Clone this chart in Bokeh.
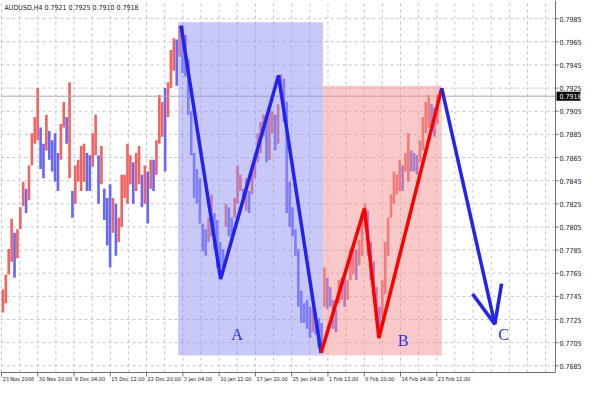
import numpy as np
from bokeh.plotting import figure
from bokeh.models import Range1d, ColumnDataSource
from bokeh.embed import file_html
from bokeh.resources import INLINE
from bokeh.core.properties import value

# ---------------- data ----------------
chart_title = "AUDUSD,H4  0.7921 0.7925 0.7910 0.7918"
last_price = 0.7918

# H4 bar index of date labels and their texts
date_ticks = [0, 44, 88, 132, 176, 220, 264, 308, 352, 396, 440, 484, 528]
date_labels = ["23 Nov 2006", "30 Nov 20:00", "8 Dec 04:00", "15 Dec 12:00", "22 Dec 20:00",
               "3 Jan 04:00", "10 Jan 12:00", "17 Jan 20:00", "25 Jan 04:00", "1 Feb 12:00",
               "8 Feb 20:00", "16 Feb 04:00", "23 Feb 12:00"]
grid_ticks = list(range(0, 672, 22))
price_ticks = [0.7685, 0.7705, 0.7725, 0.7745, 0.7765, 0.7785, 0.7805, 0.7825, 0.7845,
               0.7865, 0.7885, 0.7905, 0.7925, 0.7945, 0.7965, 0.7985]

# price ranges, sampled every ~3.5 H4 bars
bar_high = [
    .7751, .7764, .7786, .7812, .7800, .7803, .7822, .7844, .7838, .7858,
    .7886, .7900, .7925, .7891, .7877, .7902, .7888, .7880, .7886, .7869,
    .7894, .7913, .7900, .7930, .7836, .7858, .7863, .7875, .7877, .7869,
    .7867, .7886, .7902, .7867, .7875, .7838, .7830, .7842, .7830, .7825,
    .7813, .7850, .7850, .7877, .7867, .7861, .7869, .7875, .7850, .7858,
    .7853, .7863, .7863, .7880, .7919, .7913, .7925, .7930, .7958, .7968,
    .7967, .7979, .7979, .7971, .7950, .7905, .7869, .7855, .7847, .7808,
    .7803, .7813, .7833, .7817, .7811, .7792, .7786, .7825, .7822, .7813,
    .7830, .7858, .7850, .7838, .7847, .7836, .7853, .7869, .7886, .7896,
    .7902, .7902, .7908, .7905, .7902, .7911, .7937, .7933, .7913, .7844,
    .7822, .7803, .7786, .7750, .7739, .7742, .7736, .7734, .7731, .7726,
    .7722, .7770, .7761, .7753, .7742, .7734, .7759, .7761, .7764, .7759,
    .7786, .7789, .7786, .7794, .7817, .7825, .7819, .7792, .7775, .7753,
    .7736, .7759, .7792, .7813, .7833, .7853, .7850, .7863, .7858, .7869,
    .7886, .7871, .7869, .7867, .7880, .7900, .7913, .7919, .7911, .7908,
    .7919]
bar_low = [
    .7731, .7739, .7764, .7775, .7761, .7778, .7803, .7823, .7817, .7828,
    .7858, .7877, .7880, .7855, .7847, .7871, .7863, .7853, .7844, .7836,
    .7863, .7891, .7877, .7847, .7813, .7825, .7844, .7836, .7844, .7836,
    .7836, .7857, .7867, .7825, .7842, .7811, .7789, .7770, .7800, .7780,
    .7792, .7805, .7830, .7825, .7842, .7825, .7836, .7842, .7822, .7825,
    .7808, .7838, .7836, .7850, .7877, .7883, .7853, .7900, .7925, .7940,
    .7927, .7952, .7938, .7935, .7902, .7867, .7830, .7825, .7808, .7784,
    .7780, .7792, .7797, .7786, .7770, .7770, .7770, .7805, .7797, .7792,
    .7813, .7825, .7836, .7825, .7819, .7817, .7833, .7847, .7861, .7869,
    .7883, .7861, .7863, .7886, .7871, .7877, .7919, .7896, .7817, .7805,
    .7797, .7780, .7736, .7722, .7722, .7717, .7709, .7714, .7712, .7701,
    .7701, .7736, .7734, .7736, .7717, .7714, .7739, .7742, .7736, .7742,
    .7759, .7764, .7759, .7772, .7780, .7805, .7780, .7759, .7745, .7726,
    .7717, .7726, .7747, .7780, .7813, .7825, .7833, .7836, .7836, .7853,
    .7844, .7853, .7853, .7850, .7861, .7871, .7886, .7891, .7888, .7883,
    .7894]
bars_per_sample = 3.513
bar_time = [1.76 + bars_per_sample * i for i in range(len(bar_high))]

# shaded boxes (bar index / price)
box_left = [214.3, 389.9]
box_right = [389.9, 534.0]
box_top = [0.7982, 0.7927]
box_bottom = [0.7694, 0.7694]
box_colors = ["#9494f4", "#f49494"]

# zigzag waves
wave_a_t = [217.8, 265.8, 336.0, 387.6]
wave_a_p = [0.7979, 0.7760, 0.7936, 0.7696]
wave_b_t = [387.6, 440.3, 457.8, 534.0]
wave_b_p = [0.7696, 0.7821, 0.7709, 0.7925]
wave_c_t = [534.0, 598.4]
wave_c_p = [0.7925, 0.7721]
arrow_t = [571.4, 598.4, 606.6]
arrow_p = [0.7747, 0.7721, 0.7756]

wave_names = ["A", "B", "C"]
wave_name_t = [285.7, 487.1, 608.9]
wave_name_p = [0.7712, 0.7707, 0.7712]

# ---------------- layout ----------------
W, H = 584, 384          # canvas
CW, CH = 555, 372        # chart area (left/top aligned)
x_lo, x_hi = -1.2, 672.0
y_lo, y_hi = 0.76792, 0.80007
px_x = (x_hi - x_lo) / CW     # data units per pixel
px_y = (y_hi - y_lo) / CH

p = figure(width=W, height=H, output_backend="svg", toolbar_location=None,
           x_axis_type=None, y_axis_type=None,
           x_range=Range1d(x_lo, x_lo + px_x * W), y_range=Range1d(y_hi - px_y * H, y_hi),
           min_border=0, background_fill_color="white", border_fill_color="white")
p.outline_line_color = None
p.grid.visible = False

axis_col = "#707070"
text_col = "#202020"
grid_col = "#c4c4c4"
small_font = value("Liberation Sans Narrow, DejaVu Sans Condensed, Liberation Sans")

# grid
gx = [t for t in grid_ticks if t < x_hi]
p.segment(x0=gx, x1=gx, y0=[y_lo] * len(gx), y1=[y_hi] * len(gx),
          line_color=grid_col, line_dash="3 3", line_width=1)
p.segment(x0=[x_lo] * len(price_ticks), x1=[x_hi] * len(price_ticks), y0=price_ticks, y1=price_ticks,
          line_color=grid_col, line_dash="3 3", line_width=1)

# price bars
mid = (np.array(bar_high) + np.array(bar_low)) / 2
colors = ["#f06464" if i == 0 or mid[i] >= mid[i - 1] else "#6868f8" for i in range(len(mid))]
bars = ColumnDataSource(dict(t=bar_time, hi=bar_high, lo=bar_low, c=colors))
p.vbar(x="t", top="hi", bottom="lo", width=3.2, fill_color="c", line_color=None, source=bars)

# last price line
p.segment(x0=[x_lo], x1=[x_hi], y0=[last_price], y1=[last_price], line_color="#a8a8a8", line_width=1)

# shaded boxes
p.quad(left=box_left, right=box_right, top=box_top, bottom=box_bottom,
       fill_color=box_colors, fill_alpha=0.5, line_color=None)

# waves
p.line(wave_a_t, wave_a_p, line_color="#2323f0", line_width=3.5)
p.line(wave_b_t, wave_b_p, line_color="#ff0000", line_width=3.5)
p.line(wave_c_t, wave_c_p, line_color="#2323f0", line_width=3.5)
p.line(arrow_t, arrow_p, line_color="#2323f0", line_width=3.5)

p.text(x=wave_name_t, y=wave_name_p, text=wave_names, text_color="#3030f0",
       text_font=value("Liberation Serif"), text_font_size="16px",
       text_align="center", text_baseline="middle")

# axes lines
p.segment(x0=[x_hi, x_lo], x1=[x_hi, x_hi], y0=[y_lo, y_lo], y1=[y_hi, y_lo],
          line_color=axis_col, line_width=1)
# right ticks + labels
n = len(price_ticks)
p.segment(x0=[x_hi] * n, x1=[x_hi + 3 * px_x] * n, y0=price_ticks, y1=price_ticks,
          line_color=axis_col, line_width=1)
p.text(x=[x_hi] * n, y=price_ticks, text=["%.4f" % v for v in price_ticks], x_offset=4,
       text_align="left", text_baseline="middle", text_font=small_font,
       text_font_size="7px", text_color=text_col)
# bottom ticks + labels
m = len(date_ticks)
p.segment(x0=date_ticks, x1=date_ticks, y0=[y_lo] * m, y1=[y_lo - 4 * px_y] * m,
          line_color=axis_col, line_width=1)
p.text(x=date_ticks, y=[y_lo] * m, text=date_labels, x_offset=1, y_offset=3,
       text_align="left", text_baseline="top", text_font=small_font,
       text_font_size="5.5px", text_color=text_col)

# last price tag
p.quad(left=[x_hi + 1 * px_x], right=[x_hi + 25 * px_x],
       top=[last_price + 4.5 * px_y], bottom=[last_price - 4.5 * px_y],
       fill_color="black", line_color=None)
p.text(x=[x_hi], y=[last_price], text=["%.4f" % last_price], x_offset=4,
       text_align="left", text_baseline="middle", text_font=small_font,
       text_font_size="7px", text_color="white")

# title
p.text(x=[x_lo], y=[y_hi], text=[chart_title], x_offset=4, y_offset=3,
       text_align="left", text_baseline="top", text_font=small_font,
       text_font_size="7px", text_color=text_col)

open("out.html", "w").write(file_html(p, INLINE))
